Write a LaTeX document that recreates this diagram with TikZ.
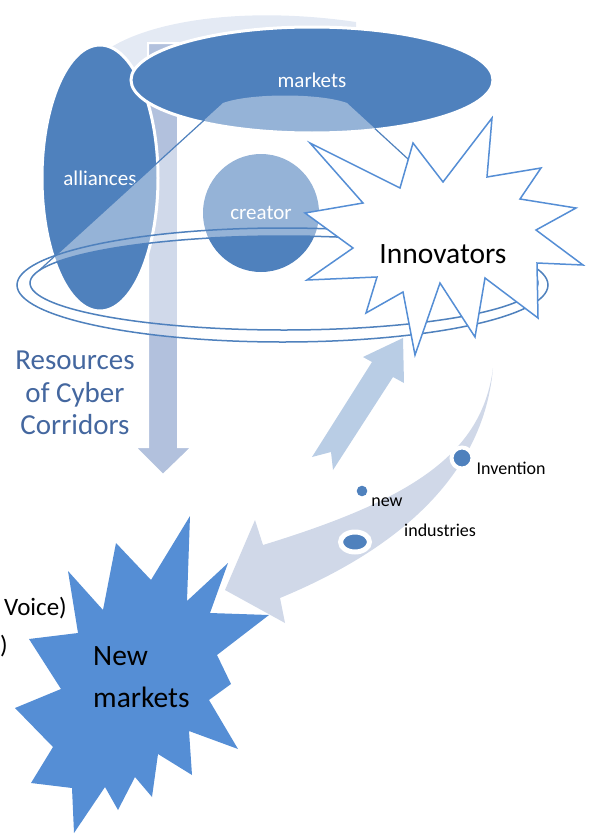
\documentclass[tikz,border=0pt]{standalone}
\usepackage{fontspec}
\setmainfont{Carlito}
\usepackage{tikz}
\usetikzlibrary{shapes,positioning,calc}

\definecolor{mktblue}{HTML}{4F81BD}
\definecolor{starblue}{HTML}{558ED5}
\definecolor{upblue}{HTML}{B9CDE5}
\definecolor{curveblue}{HTML}{D0D8E8}
\definecolor{bandblue}{HTML}{E4EAF4}
\definecolor{shaftblue}{HTML}{B2C1DD}
\definecolor{resblue}{HTML}{44679F}

\begin{document}
\begin{tikzpicture}[
    x=1pt, y=-1pt,
    blob/.style={ellipse, fill=mktblue, draw=white, line width=3pt, inner sep=0pt, text=white, font=\fontsize{21}{25}\selectfont},
    ringline/.style={draw=mktblue, line width=1.5pt},
    coneline/.style={draw=mktblue, line width=1.2pt},
    dot/.style={fill=mktblue, draw=white, inner sep=0pt},
    small/.style={font=\fontsize{18}{22}\selectfont, inner sep=0pt},
    big/.style={font=\fontsize{29.5}{35}\selectfont, inner sep=0pt},
]
\useasboundingbox (0,0) rectangle (589,835);
\clip (0,0) rectangle (589,835);

% Light band over the top
\fill[bandblue] (100,55) .. controls (140,22) and (240,5) .. (356,22) -- (356,45) .. controls (260,38) and (170,50) .. (140,85) -- cycle;

% Resources arrow (down)
\filldraw[fill=shaftblue, draw=white, line width=2pt] (148,43) -- (178,43) -- (178,447) -- (192,447) -- (163,475) -- (135,447) -- (148,447) -- cycle;

% Ring interior
\fill[white, fill opacity=0.4] (282.5,285) ellipse [x radius=265.5, y radius=57];

% Ellipses
\node[blob, minimum width=116pt, minimum height=266pt] (alliances) at (100,178) {alliances};
\node[blob, minimum width=362pt, minimum height=106pt] (markets) at (312,80) {markets};
\node[blob, draw=none, minimum width=116pt, minimum height=118pt] (creator) at (261,213) {creator};

% Cone from markets down to the ring
\coordinate (coneTL) at (223,103);
\coordinate (coneTR) at (347,103);
\coordinate (coneBL) at ({284+254*cos(165)},{283-47*sin(165)});
\coordinate (coneBR) at ({284+254*cos(12)},{283-47*sin(12)});
\fill[white, fill opacity=0.4] (coneTL) .. controls (250,93) and (320,93) .. (coneTR) -- plot[domain=12:165, samples=60] ({284+254*cos(\x)},{283-47*sin(\x)}) -- cycle;
\draw[coneline] ($(coneTL)!0.1!(coneBL)$) -- (coneBL);
\draw[coneline] ($(coneTR)!0.15!(coneBR)$) -- (coneBR);

% Ring
\draw[ringline] (282.5,285) ellipse [x radius=265.5, y radius=57];
\draw[ringline] (284,283) ellipse [x radius=254, y radius=47];

% Innovators star
\filldraw[fill=white, draw=starblue, line width=1.5pt]
    (310,143) -- (400,188) -- (413,143) -- (443,182) -- (492,118) -- (487,177)
    -- (541,168) -- (520,199) -- (576,208) -- (536,230) -- (583,265) -- (537,263)
    -- (538,318) -- (485,278) -- (475,337) -- (440,283) -- (415,355) -- (403,292)
    -- (366,313) -- (377,277) -- (307,280) -- (353,248) -- (305,213) -- (363,203) -- cycle;
\node[big, anchor=base] (innov) at (443,263) {Innovators};

% Arrow up to the innovators
\fill[upblue] (312,457) -- (372,362) -- (363,357) -- (403,338) -- (404,383) -- (393,377) -- (333,470) -- (331,452) -- cycle;

% Curved arrow down to new markets
\fill[curveblue] (493,368) .. controls (485,460) and (420,540) .. (280,598) -- (285,623) -- (225,590) -- (255,520) -- (263,545) .. controls (410,500) and (482,455) .. (493,368) -- cycle;

% Dots on the curved arrow
\node[dot, circle, line width=4pt, minimum size=21pt] (invdot) at (462,458) {};
\node[dot, circle, draw=none, minimum size=10.6pt] (newdot) at (362,491) {};
\node[dot, ellipse, line width=5pt, minimum width=29pt, minimum height=20pt] (inddot) at (355,542) {};
\node[small, right=2pt of invdot, yshift=-10.5pt] (invlabel) {Invention};
\node[small, right=3.7pt of newdot, yshift=-11pt] (newlabel) {new};
\node[small, anchor=west] (indlabel) at (404,530) {industries};

% New markets star
\fill[starblue]
    (190,516) -- (187,601) -- (228,563) -- (210,613) -- (269,615) -- (217,655)
    -- (231,684) -- (209,700) -- (238,749) -- (189,731) -- (192,775) -- (158,754)
    -- (152,797) -- (135,777) -- (118,810) -- (105,787) -- (74,833) -- (72,788)
    -- (31,783) -- (53,747) -- (15,708) -- (61,689) -- (29,639) -- (78,633)
    -- (68,571) -- (103,610) -- (116,543) -- (151,580) -- cycle;
\node[big, align=left, anchor=north west, font=\fontsize{29.5}{42}\selectfont] (newmkt) at (93,646) {New\\markets};

% Texts at the left
\node[big, text=resblue, align=center, anchor=north, font=\fontsize{29}{32.5}\selectfont] (res) at (75,351) {Resources\\of Cyber\\Corridors};
\node[inner sep=0pt, anchor=base east, font=\fontsize{25}{29}\selectfont] (voice) at (67,615) {Voice)};
\node[inner sep=0pt, anchor=base east, font=\fontsize{25}{29}\selectfont] (paren) at (8,653) {)};

\end{tikzpicture}
\end{document}
